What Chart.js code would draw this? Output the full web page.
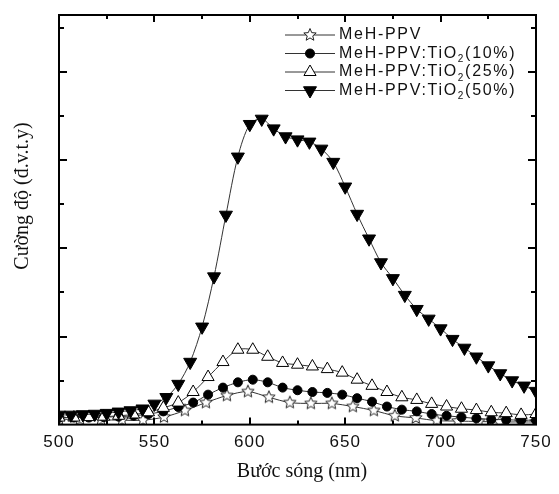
<!DOCTYPE html>
<html>
<head>
<meta charset="utf-8">
<script src="https://cdn.jsdelivr.net/npm/chart.js@4.4.0/dist/chart.umd.min.js"></script>
<style>
html, body { margin: 0; padding: 0; background: #fff; }
#wrap { width: 559px; height: 494px; }
</style>
</head>
<body>
<div id="wrap"><canvas id="chart" width="559" height="494"></canvas></div>
<script>
// series names (₂ is drawn as a subscript in the legend)
const seriesNames = ['MeH-PPV', 'MeH-PPV:TiO₂(10%)', 'MeH-PPV:TiO₂(25%)', 'MeH-PPV:TiO₂(50%)']

// wavelengths (nm) of the plotted markers, each series has its own sampling
const wlPure = [500, 511, 522, 533, 544, 555, 566, 577, 588, 599, 610, 621, 632, 643, 654, 665, 676, 687, 698, 709, 720, 731, 742, 750]
const wlTiO2 = [500, 507.81, 515.63, 523.44, 531.25, 539.06, 546.88, 554.69, 562.5, 570.31, 578.13, 585.94, 593.75, 601.56, 609.38, 617.19, 625, 632.81, 640.63, 648.44, 656.25, 664.06, 671.88, 679.69, 687.5, 695.31, 703.13, 710.94, 718.75, 726.56, 734.38, 742.19, 750]
const wl50 = [500, 506.25, 512.5, 518.75, 525, 531.25, 537.5, 543.75, 550, 556.25, 562.5, 568.75, 575, 581.25, 587.5, 593.75, 600, 606.25, 612.5, 618.75, 625, 631.25, 637.5, 643.75, 650, 656.25, 662.5, 668.75, 675, 681.25, 687.5, 693.75, 700, 706.25, 712.5, 718.75, 725, 731.25, 737.5, 743.75, 750]

// intensity (arb. units)
const intPure = [0.06, 0.06, 0.055, 0.05, 0.05, 0.085, 0.16, 0.25, 0.33, 0.375, 0.31, 0.25, 0.24, 0.24, 0.205, 0.16, 0.10, 0.075, 0.045, 0.04, 0.035, 0.03, 0.03, 0.03]
const int10 = [0.08, 0.08, 0.08, 0.085, 0.09, 0.10, 0.12, 0.15, 0.20, 0.25, 0.34, 0.42, 0.48, 0.51, 0.48, 0.42, 0.39, 0.37, 0.36, 0.34, 0.30, 0.26, 0.205, 0.17, 0.15, 0.12, 0.10, 0.085, 0.07, 0.06, 0.055, 0.05, 0.05]
const int25 = [0.08, 0.08, 0.085, 0.09, 0.10, 0.115, 0.14, 0.19, 0.25, 0.37, 0.54, 0.71, 0.85, 0.85, 0.77, 0.70, 0.68, 0.66, 0.63, 0.59, 0.51, 0.44, 0.37, 0.31, 0.28, 0.235, 0.205, 0.18, 0.165, 0.14, 0.13, 0.11, 0.12]
const int50 = [0.11, 0.11, 0.115, 0.12, 0.13, 0.145, 0.16, 0.18, 0.235, 0.31, 0.46, 0.71, 1.11, 1.68, 2.38, 3.04, 3.41, 3.47, 3.36, 3.27, 3.235, 3.21, 3.13, 2.98, 2.70, 2.39, 2.11, 1.84, 1.66, 1.47, 1.31, 1.20, 1.09, 0.97, 0.87, 0.77, 0.67, 0.58, 0.50, 0.44, 0.38]

// axis ticks
const xMajor = [500, 550, 600, 650, 700, 750]
const xMinor = [525, 575, 625, 675, 725]
const yMajor = [1, 2, 3, 4]
const yMinor = [0.5, 1.5, 2.5, 3.5, 4.5]

const xTitle = 'Bước sóng (nm)'
const yTitle = 'Cường độ (đ.v.t.y)'

function toPoints(xs, ys) {
    return xs.map((x, i) => ({ x: x, y: ys[i] }))
}

// open five point star used as marker
function makeStar(r) {
    const size = Math.ceil(r * 2 + 3)
    const c = document.createElement('canvas')
    c.width = size
    c.height = size
    const g = c.getContext('2d')
    const cx = size / 2, cy = size / 2
    g.beginPath()
    for (let i = 0; i < 10; i++) {
        const rad = i % 2 === 0 ? r : r * 0.45
        const a = -Math.PI / 2 + i * Math.PI / 5
        const px = cx + rad * Math.cos(a), py = cy + rad * Math.sin(a)
        if (i === 0) g.moveTo(px, py); else g.lineTo(px, py)
    }
    g.closePath()
    g.fillStyle = '#fff'
    g.fill()
    g.lineWidth = 1
    g.strokeStyle = '#222'
    g.stroke()
    return c
}
const starImg = makeStar(6.5)

const styles = [
    { pointStyle: starImg, radius: 7, rotation: 0, bg: '#fff' },
    { pointStyle: 'circle', radius: 4.5, rotation: 0, bg: '#000' },
    { pointStyle: 'triangle', radius: 7, rotation: 0, bg: '#fff' },
    { pointStyle: 'triangle', radius: 7.5, rotation: 180, bg: '#000' }
]

function makeDataset(i, pts) {
    const s = styles[i]
    return {
        label: seriesNames[i],
        data: pts,
        borderColor: '#333',
        borderWidth: 1,
        tension: 0.3,
        pointStyle: s.pointStyle,
        pointRadius: s.radius,
        pointRotation: s.rotation,
        pointBackgroundColor: s.bg,
        pointBorderColor: '#000',
        pointBorderWidth: 1,
        order: 4 - i
    }
}

const framePlugin = {
    id: 'frame',
    beforeDraw: function (chart) {
        chart.ctx.letterSpacing = '1px'
    },
    afterDraw: function (chart) {
        const ctx = chart.ctx
        const a = chart.chartArea
        const xs = chart.scales.x
        const ys = chart.scales.y
        ctx.save()
        ctx.strokeStyle = '#000'
        ctx.lineWidth = 2
        ctx.strokeRect(a.left, a.top, a.right - a.left, a.bottom - a.top)

        // inward ticks on all four sides
        ctx.lineWidth = 2
        ctx.beginPath()
        const xt = xMajor.map(v => [v, 7]).concat(xMinor.map(v => [v, 4]))
        xt.forEach(function (t) {
            const px = Math.round(xs.getPixelForValue(t[0]))
            if (px <= a.left + 1 || px >= a.right - 1) return
            ctx.moveTo(px, a.bottom); ctx.lineTo(px, a.bottom - t[1])
            ctx.moveTo(px, a.top); ctx.lineTo(px, a.top + t[1])
        })
        const yt = yMajor.map(v => [v, 8]).concat(yMinor.map(v => [v, 5]))
        yt.forEach(function (t) {
            const py = Math.round(ys.getPixelForValue(t[0]))
            ctx.moveTo(a.left, py); ctx.lineTo(a.left + t[1], py)
            ctx.moveTo(a.right, py); ctx.lineTo(a.right - t[1], py)
        })
        ctx.stroke()

        // axis titles
        ctx.letterSpacing = '0px'
        ctx.fillStyle = '#111'
        ctx.font = '20px "Liberation Serif", "Times New Roman", serif'
        ctx.textAlign = 'center'
        ctx.textBaseline = 'middle'
        ctx.fillText(xTitle, 302, 472)
        ctx.translate(23, 196)
        ctx.rotate(-Math.PI / 2)
        ctx.fillText(yTitle, 0, 0)
        ctx.restore()

        // legend
        ctx.save()
        const rowY = [35, 53.5, 72, 90.5]
        seriesNames.forEach(function (name, i) {
            const y = rowY[i]
            ctx.strokeStyle = '#333'
            ctx.lineWidth = 1
            ctx.beginPath()
            ctx.moveTo(285, y)
            ctx.lineTo(335, y)
            ctx.stroke()
            const s = styles[i]
            ctx.fillStyle = s.bg
            ctx.strokeStyle = '#000'
            Chart.helpers.drawPoint(ctx, {
                pointStyle: s.pointStyle, radius: s.radius, rotation: s.rotation, borderWidth: 1
            }, 310, y)
            const parts = name.split('₂')
            let x = 339
            ctx.fillStyle = '#111'
            ctx.textAlign = 'left'
            ctx.textBaseline = 'middle'
            ctx.letterSpacing = '1.7px'
            parts.forEach(function (p, j) {
                ctx.font = '16px "Liberation Sans", Arial, sans-serif'
                ctx.fillText(p, x, y)
                x += ctx.measureText(p).width
                if (j < parts.length - 1) {
                    ctx.font = '10px "Liberation Sans", Arial, sans-serif'
                    ctx.fillText('2', x, y + 6)
                    x += ctx.measureText('2').width
                }
            })
        })
        ctx.restore()
    }
}

const chart = new Chart(document.getElementById('chart'), {
    type: 'line',
    data: {
        datasets: [
            makeDataset(0, toPoints(wlPure, intPure)),
            makeDataset(1, toPoints(wlTiO2, int10)),
            makeDataset(2, toPoints(wlTiO2, int25)),
            makeDataset(3, toPoints(wl50, int50))
        ]
    },
    options: {
        responsive: false,
        animation: false,
        layout: { padding: { left: 59, right: 23, top: 15, bottom: 33 } },
        plugins: {
            legend: { display: false },
            tooltip: { enabled: false }
        },
        scales: {
            x: {
                type: 'linear',
                min: 500,
                max: 750,
                afterBuildTicks: function (axis) {
                    axis.ticks = xMajor.map(v => ({ value: v }))
                },
                grid: { display: false, drawTicks: false },
                border: { display: false },
                ticks: {
                    color: '#111',
                    padding: 8,
                    maxRotation: 0,
                    font: { family: '"Liberation Sans", Arial, sans-serif', size: 17 }
                }
            },
            y: {
                display: false,
                min: 0,
                max: 4.65
            }
        }
    },
    plugins: [framePlugin]
})
</script>
</body>
</html>
